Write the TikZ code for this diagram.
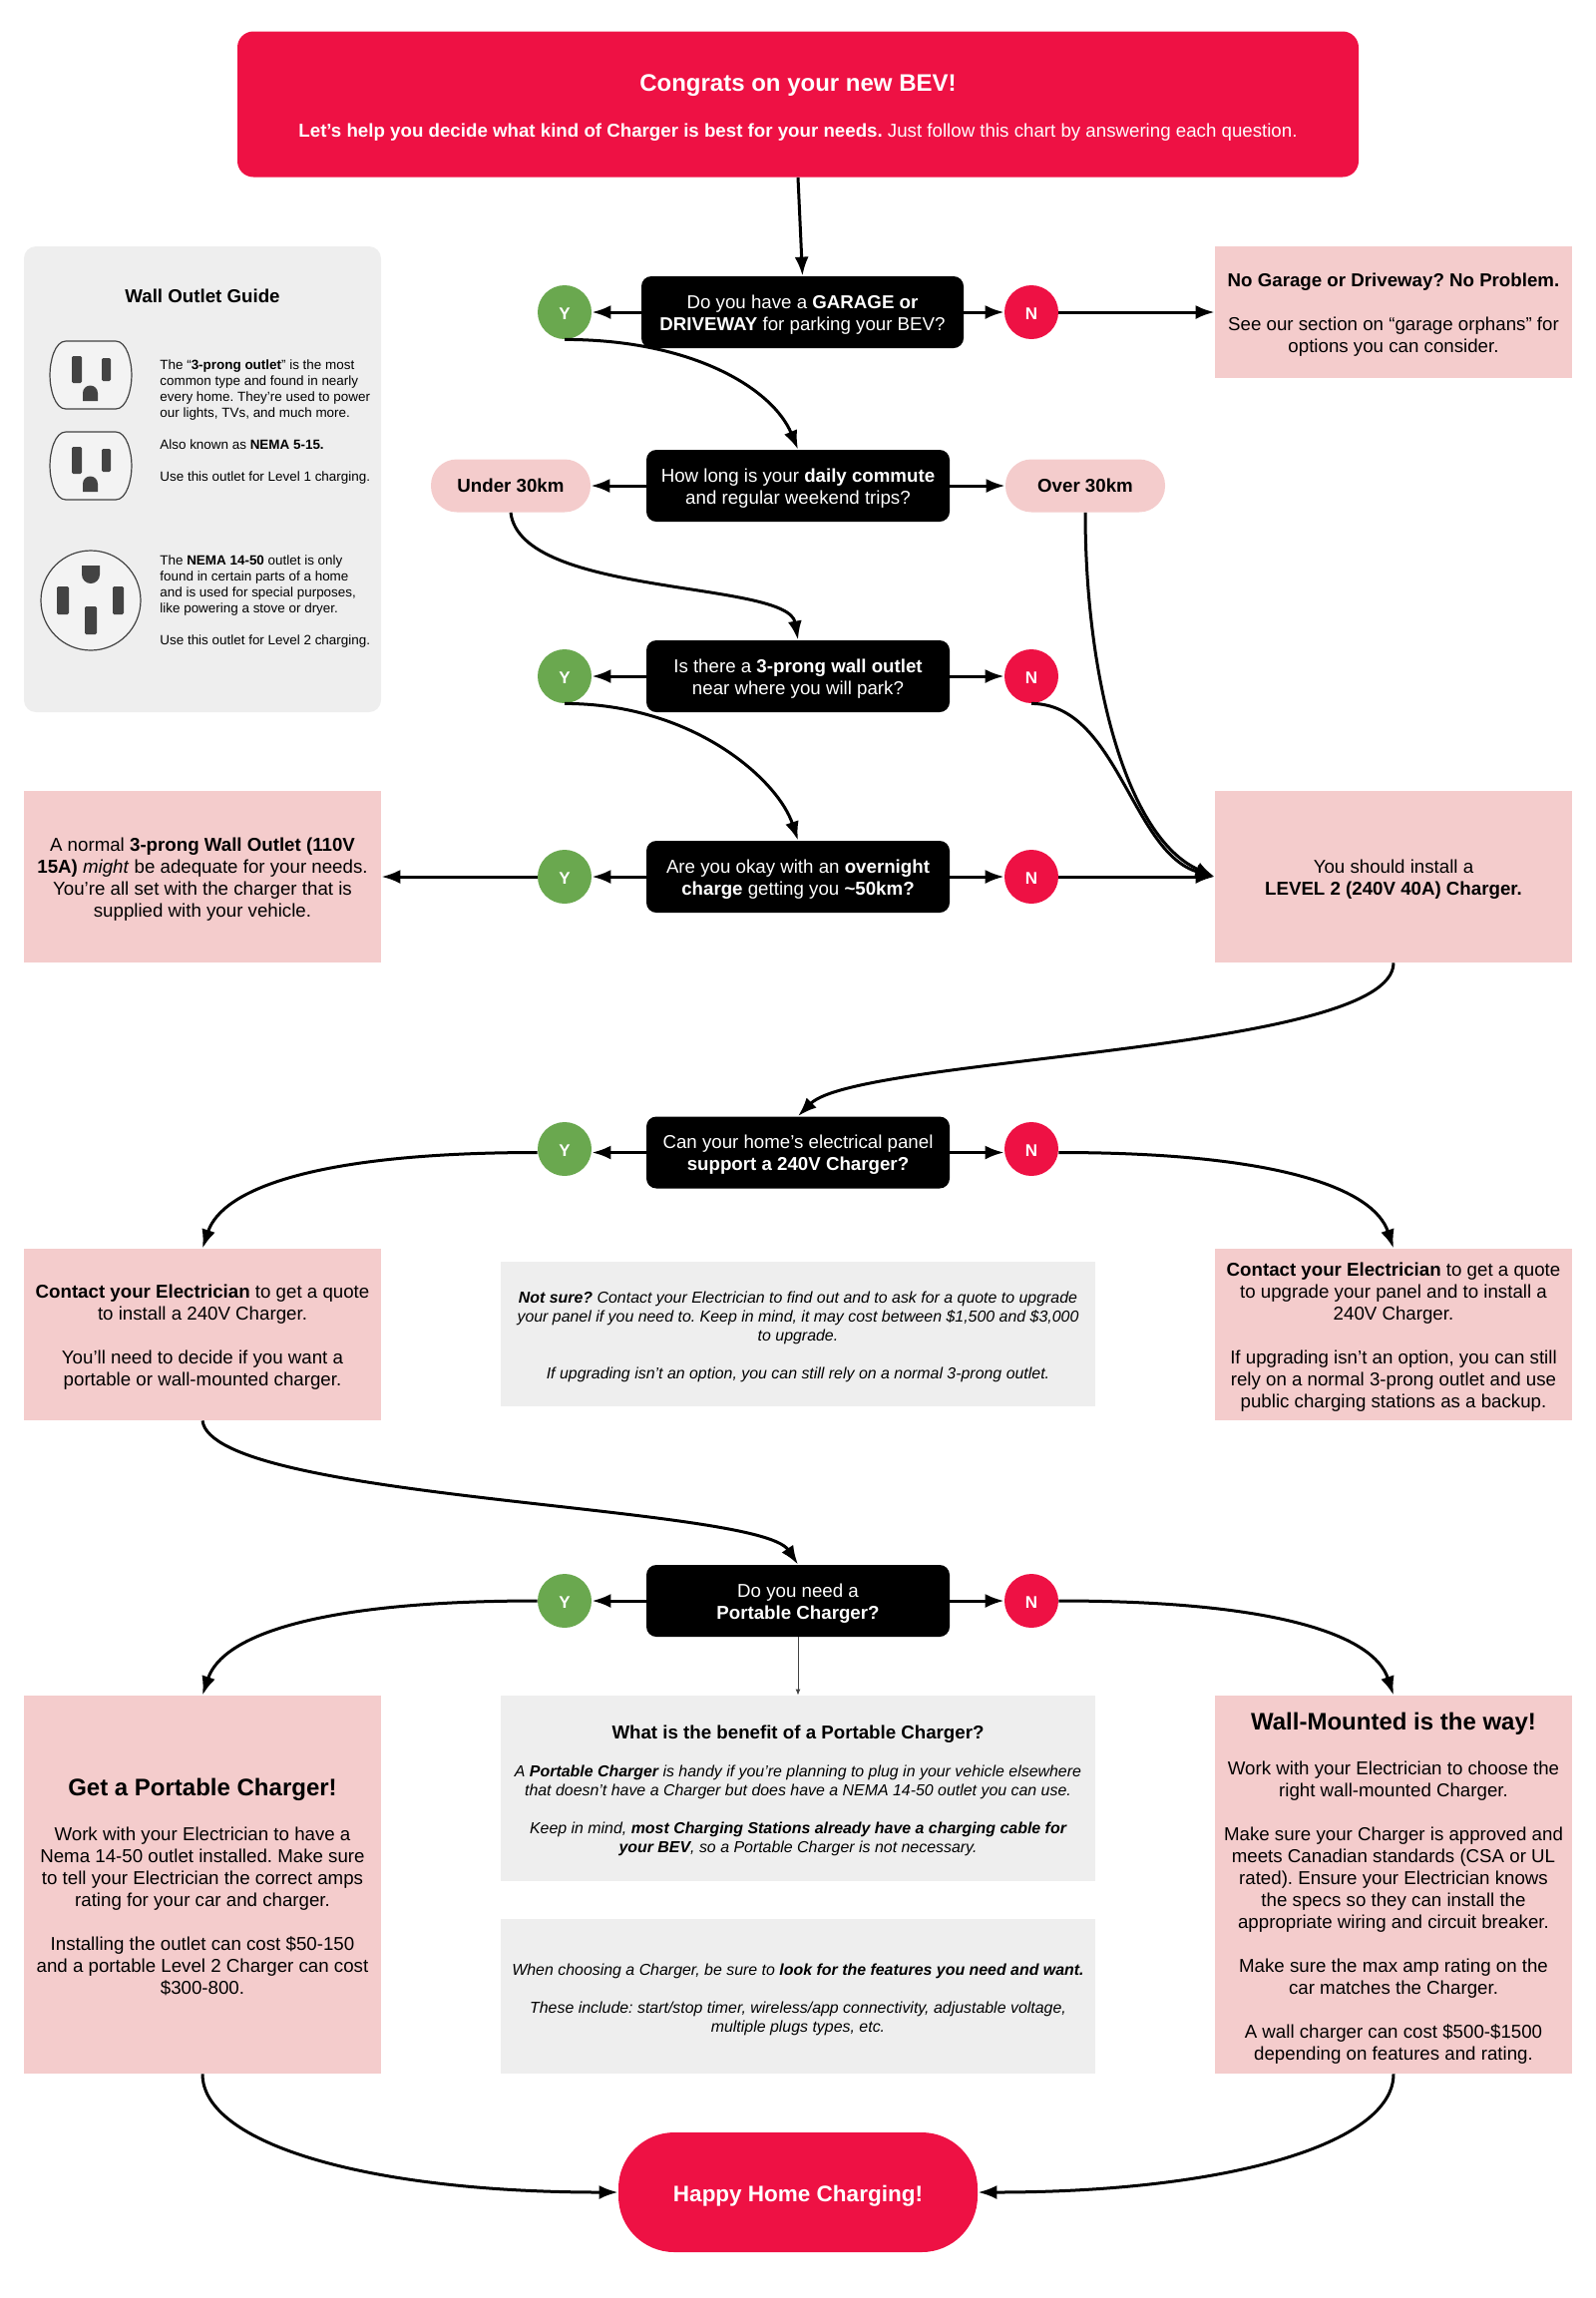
\documentclass[tikz,border=0pt]{standalone}
\usepackage{fontspec}
\setmainfont{Liberation Sans}
\frenchspacing
\usetikzlibrary{arrows.meta}
\definecolor{evred}{HTML}{EE1144}
\definecolor{evgreen}{HTML}{6AA84F}
\definecolor{evpink}{HTML}{F4CCCC}
\definecolor{evgrey}{HTML}{EEEEEE}
\definecolor{evlight}{HTML}{F3F3F3}
\definecolor{evdark}{HTML}{434343}
\newcommand{\bi}[1]{\textbf{\textit{#1}}}
\newcommand{\low}[1][9pt]{\rule{0pt}{#1}}
\tikzset{
  sized/.style 2 args={minimum width=#1,minimum height=#2,inner sep=0pt,align=center},
  lowered/.style={execute at begin node={\rule{0pt}{#1}}},
  textmain/.style={font=\fontsize{9.35}{11}\selectfont},
  textnote/.style={font=\fontsize{7.96}{9.5}\selectfont\itshape},
  textsmall/.style={font=\fontsize{6.72}{8}\selectfont},
  question/.style={sized={152pt}{36pt},fill=black,text=white,rounded corners=5pt,textmain},
  yes/.style={circle,fill=evgreen,text=white,minimum size=27pt,inner sep=0pt,font=\fontsize{8.5}{10}\selectfont\bfseries,lowered=7.5pt},
  no/.style={circle,fill=evred,text=white,minimum size=27pt,inner sep=0pt,font=\fontsize{8.5}{10}\selectfont\bfseries,lowered=7.5pt},
  pill/.style={sized={80pt}{26.5pt},fill=evpink,rounded corners=13pt,font=\fontsize{9.35}{11}\selectfont\bfseries},
  answer/.style={sized={179pt}{#1},fill=evpink,textmain},
  answer/.default=86pt,
  note/.style={sized={298pt}{#1},fill=evgrey,textnote},
  link/.style={draw,line width=1.5pt,-{Latex[length=9.5pt,width=7pt]}},
  thinlink/.style={draw,evdark,line width=0.5pt,-{Latex[length=3pt,width=2.5pt]}},
  prong/.style={fill=evdark,rounded corners=0.7pt}
}
\begin{document}
\begin{tikzpicture}[x=0.5pt,y=-0.5pt]
\useasboundingbox (0,0) rectangle (1600,2304);
\node[sized={562pt}{73pt},fill=evred,text=white,rounded corners=8pt,textmain] (head) at (800,104.5)
  {\low[12pt]{\fontsize{12}{14}\selectfont\textbf{Congrats on your new BEV!}}\\[12pt]\textbf{Let’s help you decide what kind of Charger is best for your needs.} Just follow this chart by answering each question.};
\node[sized={179pt}{233.5pt},fill=evgrey,rounded corners=6pt] (guide) at (203,480.5) {};
\node[textmain,inner sep=0pt] (guidetitle) at (203,297) {\textbf{Wall Outlet Guide}};
\node[textsmall,align=left,anchor=west,inner sep=0pt] (guide1) at (160,423)
  {The “\textbf{3-prong outlet}” is the most\\common type and found in nearly\\every home. They’re used to power\\our lights, TVs, and much more.\\[8pt]Also known as \textbf{NEMA 5-15.}\\[8pt]Use this outlet for Level 1 charging.};
\node[textsmall,align=left,anchor=west,inner sep=0pt] (guide2) at (160,603)
  {The \textbf{NEMA 14-50} outlet is only\\found in certain parts of a home\\and is used for special purposes,\\like powering a stove or dryer.\\[8pt]Use this outlet for Level 2 charging.};
\foreach \oy in {376,467} {
\begin{scope}[shift={(91,\oy)}]
\path[draw=evdark,fill=evlight,line width=0.6pt] (-25,-34) -- (25,-34) .. controls (36,-34) and (41,-14) .. (41,0) .. controls (41,14) and (36,34) .. (25,34) -- (-25,34) .. controls (-36,34) and (-41,14) .. (-41,0) .. controls (-41,-14) and (-36,-34) .. (-25,-34) -- cycle;
\path[prong] (-19,-19) rectangle (-9,8);
\path[prong] (11,-17) rectangle (20,6);
\path[fill=evdark] (-8,26) -- (-8,18) arc[start angle=180,end angle=0,radius=3.75pt] -- (7,26) -- cycle;
\end{scope}
}
\path[draw=evdark,fill=evlight,line width=0.6pt] (91,602) circle (25pt);
\path[prong] (57,588) rectangle (69,616);
\path[prong] (113,588) rectangle (124,616);
\path[prong] (85,608) rectangle (97,636);
\path[fill=evdark] (82,567) -- (100,567) -- (100,576) arc[start angle=0,end angle=-180,radius=4.5pt] -- cycle;
\node[question,minimum width=161.5pt] (q1) at (804.5,313) {\low Do you have a \textbf{GARAGE or}\\\textbf{DRIVEWAY} for parking your BEV?};
\node[yes] (y1) at (566,313) {Y};
\node[no] (n1) at (1034,313) {N};
\node[answer=66pt] (garage) at (1397,313) {\low\textbf{No Garage or Driveway? No Problem.}\\[11pt]See our section on “garage orphans” for\\options you can consider.};
\node[question] (q2) at (800,487) {\low How long is your \textbf{daily commute}\\and regular weekend trips?};
\node[pill] (under) at (512,487) {Under 30km};
\node[pill] (over) at (1088,487) {Over 30km};
\node[question] (q3) at (800,678) {\low Is there a \textbf{3-prong wall outlet}\\near where you will park?};
\node[yes] (y3) at (566,678) {Y};
\node[no] (n3) at (1034,678) {N};
\node[question] (q4) at (800,879) {\low Are you okay with an \textbf{overnight}\\\textbf{charge} getting you \textbf{\textasciitilde50km?}};
\node[yes] (y4) at (566,879) {Y};
\node[no] (n4) at (1034,879) {N};
\node[answer] (adequate) at (203,879) {\low A normal \textbf{3-prong Wall Outlet (110V}\\\textbf{15A)} \textit{might} be adequate for your needs.\\You’re all set with the charger that is\\supplied with your vehicle.};
\node[answer] (level2) at (1397,879) {\low You should install a\\\textbf{LEVEL 2 (240V 40A) Charger.}};
\node[question] (q5) at (800,1155.5) {\low Can your home’s electrical panel\\\textbf{support a 240V Charger?}};
\node[yes] (y5) at (566,1152) {Y};
\node[no] (n5) at (1034,1152) {N};
\node[answer] (contact1) at (203,1338) {\low\textbf{Contact your Electrician} to get a quote\\to install a 240V Charger.\\[11pt]You’ll need to decide if you want a\\portable or wall-mounted charger.};
\node[note=72.5pt] (notsure) at (800,1337.5) {\low\bi{Not sure?} Contact your Electrician to find out and to ask for a quote to upgrade\\your panel if you need to. Keep in mind, it may cost between \$1,500 and \$3,000\\to upgrade.\\[9.5pt]If upgrading isn’t an option, you can still rely on a normal 3-prong outlet.};
\node[answer] (contact2) at (1397,1338) {\low\textbf{Contact your Electrician} to get a quote\\to upgrade your panel and to install a\\240V Charger.\\[11pt]If upgrading isn’t an option, you can still\\rely on a normal 3-prong outlet and use\\public charging stations as a backup.};
\node[question] (q6) at (800,1605) {\low Do you need a\\\textbf{Portable Charger?}};
\node[yes] (y6) at (566,1605) {Y};
\node[no] (n6) at (1034,1605) {N};
\node[answer=189.5pt] (portable) at (203,1889.5) {\low[11pt]{\fontsize{12}{14}\selectfont\textbf{Get a Portable Charger!}}\\[11.5pt]Work with your Electrician to have a\\Nema 14-50 outlet installed. Make sure\\to tell your Electrician the correct amps\\rating for your car and charger.\\[11pt]Installing the outlet can cost \$50-150\\and a portable Level 2 Charger can cost\\\$300-800.};
\node[note=93pt] (benefit) at (800,1793) {\low{\fontsize{9.35}{11}\selectfont\upshape\textbf{What is the benefit of a Portable Charger?}}\\[9.5pt]A \bi{Portable Charger} is handy if you’re planning to plug in your vehicle elsewhere\\that doesn’t have a Charger but does have a NEMA 14-50 outlet you can use.\\[9.5pt]Keep in mind, \bi{most Charging Stations already have a charging cable for}\\\bi{your BEV}, so a Portable Charger is not necessary.};
\node[note=77.5pt] (features) at (800,2001.5) {\low When choosing a Charger, be sure to \bi{look for the features you need and want.}\\[9.5pt]These include: start/stop timer, wireless/app connectivity, adjustable voltage,\\multiple plugs types, etc.};
\node[answer=189.5pt] (wall) at (1397,1889.5) {\low[12pt]{\fontsize{12}{14}\selectfont\textbf{Wall-Mounted is the way!}}\\[11.5pt]Work with your Electrician to choose the\\right wall-mounted Charger.\\[11pt]Make sure your Charger is approved and\\meets Canadian standards (CSA or UL\\rated). Ensure your Electrician knows\\the specs so they can install the\\appropriate wiring and circuit breaker.\\[11pt]Make sure the max amp rating on the\\car matches the Charger.\\[11pt]A wall charger can cost \$500-\$1500\\depending on features and rating.};
\node[sized={180pt}{60pt},fill=evred,text=white,rounded corners=28pt,font=\fontsize{11.25}{13}\selectfont\bfseries,lowered=11.5pt] (happy) at (800,2198) {Happy Home Charging!};
\path[link] (head.south) -- (q1.north);
\path[link] (q1.west) -- (y1.east);
\path[link] (q1.east) -- (n1.west);
\path[link] (n1.east) -- (garage.west);
\path[link] (y1.south) .. controls +(130,0) and +(-25,-60) .. (q2.north);
\path[link] (q2.west) -- (under.east);
\path[link] (q2.east) -- (over.west);
\path[link] (under.south) .. controls +(10,85) and +(-10,-60) .. (q3.north);
\path[link] (over.south) .. controls +(0,167) and +(-88,-39) .. (level2.west);
\path[link] (q3.west) -- (y3.east);
\path[link] (q3.east) -- (n3.west);
\path[link] (n3.south) .. controls +(86,0) and +(-83,-24) .. (level2.west);
\path[link] (y3.south) .. controls +(130,0) and +(-20,-60) .. (q4.north);
\path[link] (q4.west) -- (y4.east);
\path[link] (q4.east) -- (n4.west);
\path[link] (y4.west) -- (adequate.east);
\path[link] (n4.east) -- (level2.west);
\path[link] (level2.south) .. controls +(0,90) and +(60,-60) .. (q5.north);
\path[link] (q5.west) -- (q5.west -| y5.east);
\path[link] (q5.east) -- (q5.east -| n5.west);
\path[link] (y5.west |- q5.west) .. controls +(-220,0) and +(20,-60) .. (contact1.north);
\path[link] (n5.east |- q5.east) .. controls +(220,0) and +(-20,-60) .. (contact2.north);
\path[link] (contact1.south) .. controls +(10,80) and +(-40,-60) .. (q6.north);
\path[link] (q6.west) -- (y6.east);
\path[link] (q6.east) -- (n6.west);
\path[link] (y6.west) .. controls +(-220,0) and +(20,-60) .. (portable.north);
\path[link] (n6.east) .. controls +(220,0) and +(-20,-60) .. (wall.north);
\path[thinlink] (q6.south) -- (benefit.north);
\path[link] (portable.south) .. controls +(0,70) and +(-250,0) .. (happy.west);
\path[link] (wall.south) .. controls +(0,70) and +(250,0) .. (happy.east);
\end{tikzpicture}
\end{document}
